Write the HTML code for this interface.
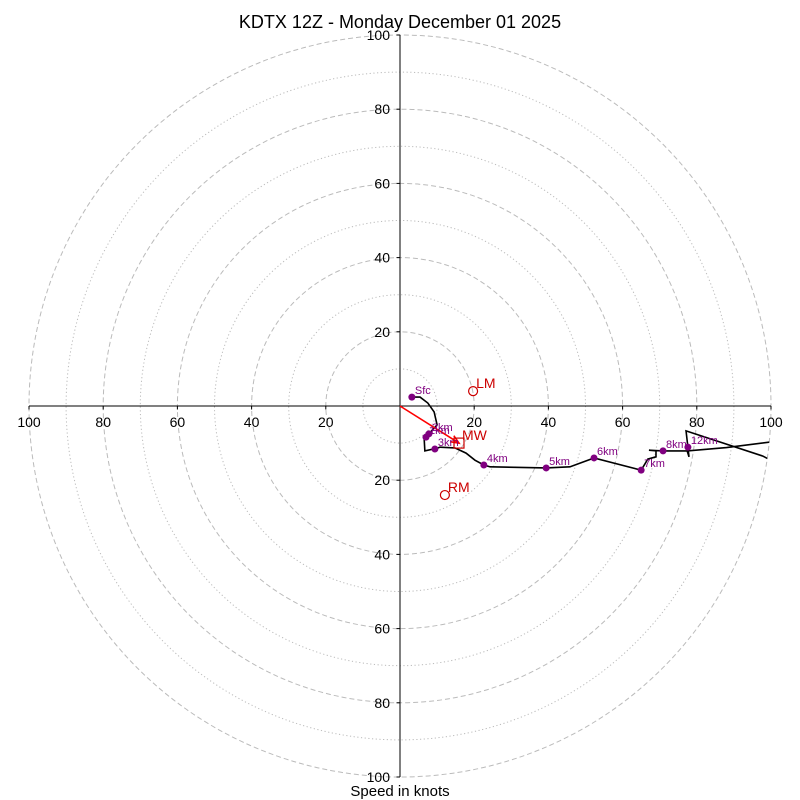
<!DOCTYPE html>
<html><head><meta charset="utf-8"><style>
html,body{margin:0;padding:0;background:#fff;}
svg{display:block;font-family:"Liberation Sans","DejaVu Sans",sans-serif;}
</style></head><body>
<svg id="chart" width="800" height="800" viewBox="0 0 800 800">
<text x="400" y="28" text-anchor="middle" font-size="18">KDTX 12Z - Monday December 01 2025</text>
<text x="400" y="796" text-anchor="middle" font-size="15">Speed in knots</text>
<defs><clipPath id="clip"><circle cx="400" cy="406" r="371"/></clipPath></defs>
<g id="grid"></g><g id="axes"></g><g id="trace" clip-path="url(#clip)"></g><g id="marks"></g>
</svg>
<script>
const ringValues=[10,20,30,40,50,60,70,80,90,100];
const tickLabels=["100","80","60","40","20","","20","40","60","80","100"];
const tickValues=[-100,-80,-60,-40,-20,0,20,40,60,80,100];
const traceU=[3.2,5.4,7.5,9.2,10.0,7.8,7.0,6.5,6.7,8.9,9.4,10.8,14.8,17.8,20.2,22.6,24.3,39.4,45.8,52.3,65.0,66.8,69.0,69.0,67.1,70.9,77.4,77.9,77.1,97.8,102.4];
const traceV=[2.4,2.4,0.8,-1.6,-5.1,-7.5,-8.4,-8.6,-12.1,-11.6,-11.6,-11.1,-11.3,-12.7,-14.6,-15.9,-16.4,-16.7,-16.4,-14.0,-17.3,-14.3,-13.7,-12.1,-11.9,-12.1,-12.1,-13.7,-6.7,-13.5,-15.9];
const trace2U=[77.4,88,102.4];
const trace2V=[-12.1,-11.2,-9.4];
const levelNames=["Sfc","1km","2km","3km","4km","5km","6km","7km","8km","12km"];
const levelU=[3.2,7.0,7.8,9.4,22.6,39.4,52.3,65.0,70.9,77.6];
const levelV=[2.4,-8.4,-7.5,-11.6,-15.9,-16.7,-14.0,-17.3,-12.1,-11.1];
const lmUV=[19.7,4.0];
const rmUV=[12.1,-24.0];
const mwUV=[15.9,-10.0];
const cx=400,cy=406,sc=3.71;
const X=u=>cx+u*sc, Y=v=>cy-v*sc;
const NS="http://www.w3.org/2000/svg";
function mk(tag,parent,attrs){const e=document.createElementNS(NS,tag);for(const k in attrs)e.setAttribute(k,attrs[k]);parent.appendChild(e);return e;}
const grid=document.getElementById('grid'),axes=document.getElementById('axes'),trace=document.getElementById('trace'),marks=document.getElementById('marks');
ringValues.forEach(r=>{const c=mk('circle',grid,{cx:cx,cy:cy,r:r*sc,fill:'none',stroke:'#bbb','stroke-width':1,'stroke-dasharray':r%20===0?'5,3':'1.2,2.5'});

});
let l=mk('line',axes,{x1:X(-100),y1:cy,x2:X(100),y2:cy,stroke:'#000','stroke-width':1});


l=mk('line',axes,{x1:cx,y1:Y(100),x2:cx,y2:Y(-100),stroke:'#000','stroke-width':1});


tickValues.forEach((t,i)=>{if(!tickLabels[i])return;
 mk('line',axes,{x1:X(t),y1:cy,x2:X(t),y2:cy+3.5,stroke:'#000'});
 let tx=mk('text',axes,{x:X(t),y:cy+21,'text-anchor':'middle','font-size':14});tx.textContent=tickLabels[i];
 
 
 mk('line',axes,{x1:cx-3.5,y1:Y(t),x2:cx,y2:Y(t),stroke:'#000'});
 let ty=mk('text',axes,{x:cx-10,y:Y(t)+5,'text-anchor':'end','font-size':14});ty.textContent=tickLabels[i];
 
 });
let p=mk('polyline',trace,{points:traceU.map((u,i)=>X(u)+','+Y(traceV[i])).join(' '),fill:'none',stroke:'#000','stroke-width':1.6});


p=mk('polyline',trace,{points:trace2U.map((u,i)=>X(u)+','+Y(trace2V[i])).join(' '),fill:'none',stroke:'#000','stroke-width':1.6});


let a=mk('line',marks,{x1:cx,y1:cy,x2:X(mwUV[0]),y2:Y(mwUV[1]),stroke:'red','stroke-width':1.6});


const ang=Math.atan2(Y(mwUV[1])-cy,X(mwUV[0])-cx);
const hx=X(mwUV[0]),hy=Y(mwUV[1]);
let ah=mk('polyline',marks,{points:[hx-9*Math.cos(ang-0.4),hy-9*Math.sin(ang-0.4),hx,hy,hx-9*Math.cos(ang+0.4),hy-9*Math.sin(ang+0.4)].join(' '),fill:'none',stroke:'red','stroke-width':1.6});


levelNames.forEach((n,i)=>{const c=mk('circle',marks,{cx:X(levelU[i]),cy:Y(levelV[i]),r:3.5,fill:'purple'});
 
 
 const t=mk('text',marks,{x:X(levelU[i])+3,y:Y(levelV[i])-3,'font-size':11,fill:'purple'});t.textContent=n;
 
 });
let s=mk('rect',marks,{x:X(mwUV[0])-5,y:Y(mwUV[1])-5,width:10,height:10,fill:'none',stroke:'#c00','stroke-width':1.2});


let t=mk('text',marks,{x:X(mwUV[0])+3,y:Y(mwUV[1])-3,'font-size':14,fill:'#c00'});t.textContent='MW';


[[lmUV,'LM','left-mover'],[rmUV,'RM','right-mover']].forEach(([uv,n,nm])=>{
 const c=mk('circle',marks,{cx:X(uv[0]),cy:Y(uv[1]),r:4.5,fill:'none',stroke:'#c00','stroke-width':1.2});
 
 
 const tt=mk('text',marks,{x:X(uv[0])+3,y:Y(uv[1])-3,'font-size':14,fill:'#c00'});tt.textContent=n;
 
 });
</script>
</body></html>
